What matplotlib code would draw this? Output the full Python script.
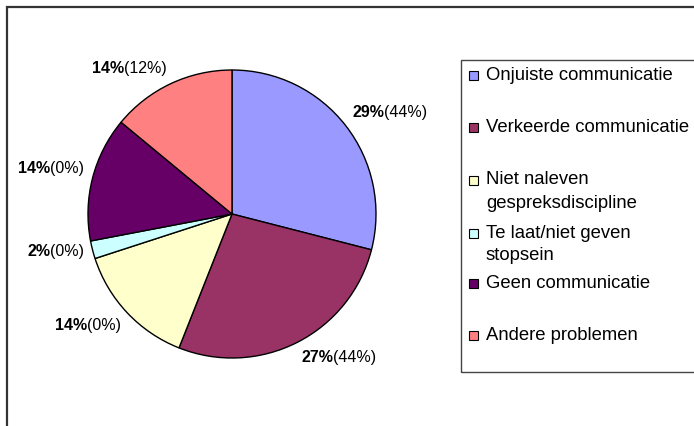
"""Pie chart: distribution of communication problems (share vs. other share in brackets)."""
import numpy as np
import matplotlib
matplotlib.use("Agg")
import matplotlib.pyplot as plt
from matplotlib.patches import Rectangle
from matplotlib.offsetbox import TextArea, HPacker, AnnotationBbox

plt.rcParams["font.family"] = ["Liberation Sans", "DejaVu Sans"]

# data
categories = [
    "Onjuiste communicatie",
    "Verkeerde communicatie",
    "Niet naleven\ngespreksdiscipline",
    "Te laat/niet geven\nstopsein",
    "Geen communicatie",
    "Andere problemen",
]
shares = [29, 27, 14, 2, 14, 14]          # bold percentage
bracket = [44, 44, 0, 0, 0, 12]           # percentage in brackets
colors = ["#9999FF", "#993366", "#FFFFCC", "#CCFFFF", "#660066", "#FF8080"]

W, H = 694, 426
legend_rows_px = [75, 127, 180, 233, 283, 335]   # legend row centres (px from top)


def fx(px):
    return px / W


def fy(py):
    return 1 - py / H


fig = plt.figure(figsize=(W / 100, H / 100), dpi=100)

# outer chart frame (runs off the right/bottom edge like the original)
fig.add_artist(Rectangle((fx(7), fy(500)), 1.2, fy(7) - fy(500),
                         transform=fig.transFigure, fill=False,
                         edgecolor="#333333", linewidth=1.6))

# pie axes: centre (232, 214) px, radius 144 px
cx, cy, r = 232, 214, 144
ax = fig.add_axes([fx(cx - r), fy(cy + r), 2 * r / W, 2 * r / H])
wedges, _ = ax.pie(shares, colors=colors, startangle=90, counterclock=False,
                   wedgeprops=dict(edgecolor="black", linewidth=1.0))
ax.set_xlim(-1, 1)
ax.set_ylim(-1, 1)
ax.axis("off")

total = float(sum(shares))
cum = 0.0
for s, b in zip(shares, bracket):
    theta = np.deg2rad(90 - 360 * (cum + s / 2) / total)
    cum += s
    c, sn = np.cos(theta), np.sin(theta)
    rr = 1.06
    ha = 0.0 if c > 0 else 1.0
    if sn > 0.2:
        va = 0.0
    elif sn < -0.5:
        va = 1.0
    else:
        va = 0.5
    box = HPacker(children=[
        TextArea(f"{s}%", textprops=dict(fontsize=11.5, fontweight="bold", color="black")),
        TextArea(f"({b}%)", textprops=dict(fontsize=11.5, color="black")),
    ], pad=0, sep=0, align="baseline")
    ab = AnnotationBbox(box, (rr * c, rr * sn), xycoords="data",
                        box_alignment=(ha, va), frameon=False, pad=0,
                        annotation_clip=False)
    ax.add_artist(ab)

# legend (drawn by hand to keep Excel's uneven row spacing)
fig.add_artist(Rectangle((fx(461), fy(372)), 1.0, fy(60) - fy(372),
                         transform=fig.transFigure, fill=False,
                         edgecolor="#444444", linewidth=1.0))
for label, col, ypx in zip(categories, colors, legend_rows_px):
    fig.add_artist(Rectangle((fx(468.5), fy(ypx + 4.5)), 9 / W, 9 / H,
                             transform=fig.transFigure, facecolor=col,
                             edgecolor="black", linewidth=0.8))
    for i, line in enumerate(label.split("\n")):
        fig.text(fx(486), fy(ypx + i * 23), line, fontsize=13.3,
                 ha="left", va="center", color="black")

fig.savefig("out.png", dpi=100, facecolor="white")
plt.close(fig)
